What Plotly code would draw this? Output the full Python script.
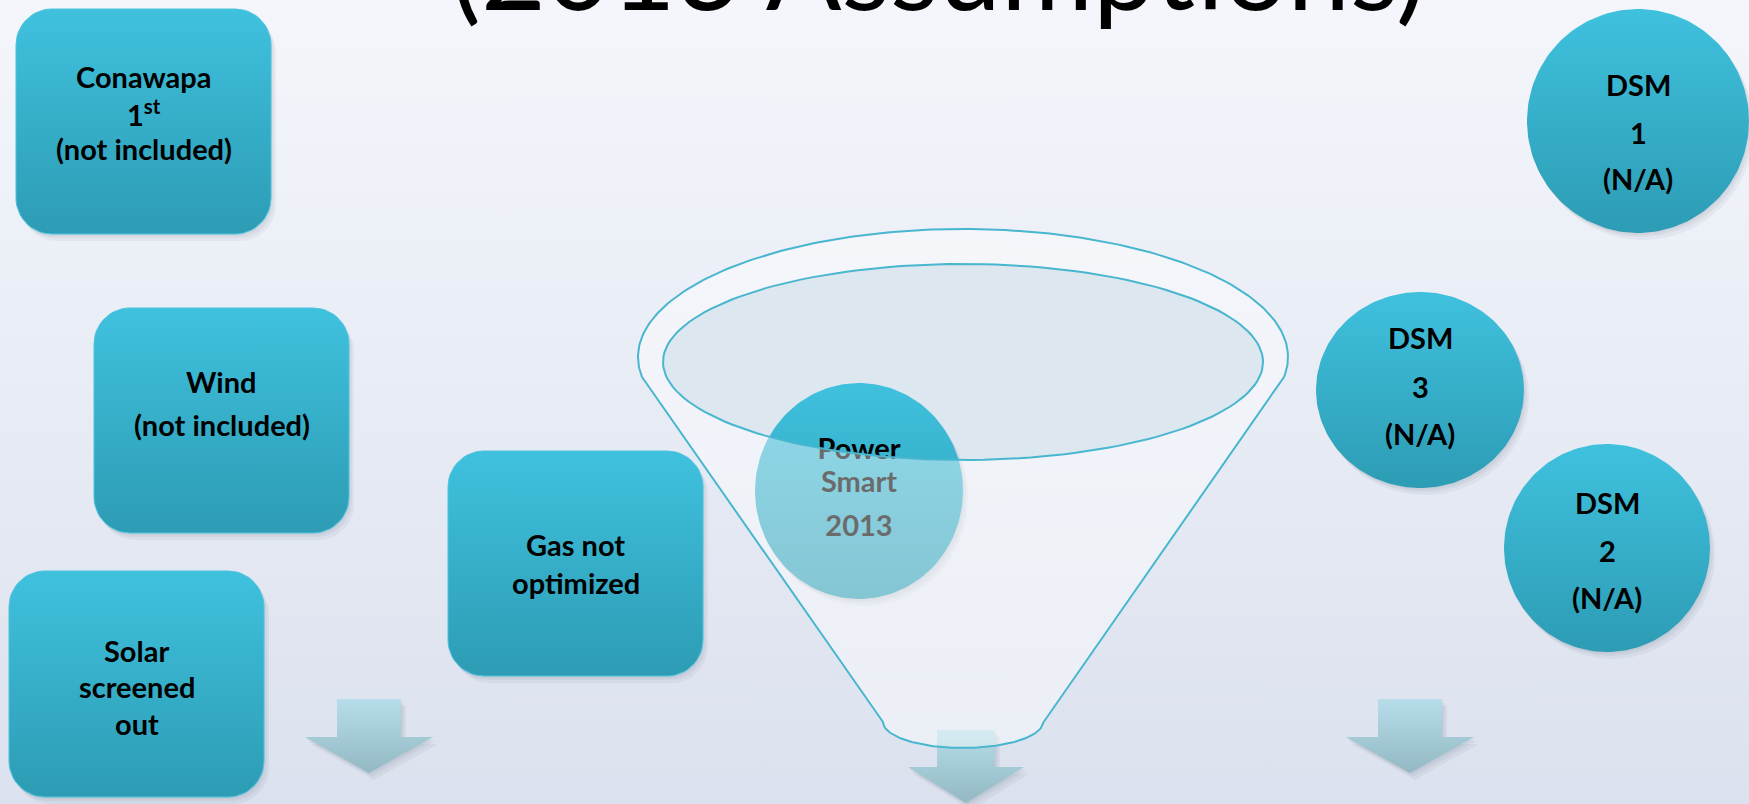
import numpy as np
import plotly.graph_objects as go

W, H = 1749, 804

# ---------------- data (text content) ----------------
title_text = "(2013 Assumptions)"
box_labels = [["Conawapa", "1<sup>st</sup>", "(not included)"],
              ["Wind", "(not included)"],
              ["Solar", "screened", "out"],
              ["Gas not", "optimized"]]
dsm_labels = [["DSM", "1", "(N/A)"],
              ["DSM", "3", "(N/A)"],
              ["DSM", "2", "(N/A)"]]
center_labels = ["Power", "Smart", "2013"]

# ---------------- layout constants (positions / styles) ----------------
box_rects = [(16, 9, 271, 234), (94, 308, 349, 533), (9, 571, 264, 797), (448, 451, 703, 676)]
box_line_y = [[76, 113, 148], [381, 424], [650, 686, 723], [544, 582]]
dsm_ell = [(1638, 121, 111, 112), (1420, 390, 104, 98), (1607, 548, 103, 104)]
dsm_line_y = [[84, 132, 178], [337, 386, 433], [502, 550, 597]]
center_ell = (859, 491, 104, 108)
center_line_y = [452, 485, 529]
arrows = [(369, 699, 737, 773, 32, 64), (966, 730, 767, 803, 29, 58), (1410, 699, 737, 773, 32, 64)]
funnel_outer = (963, 357, 325, 128)
funnel_inner = (963, 362, 300, 98)
funnel_bottom = (963, 722, 80, 26)

TOP_C, BOT_C = "#3fc1de", "#2d9cb4"
ARR_TOP, ARR_BOT = "#b6dde9", "#93b8c4"
LINE_C = "#48b6cf"
FONT = "Lato"
TXT_SIZE = 29

fig = go.Figure()


def rrect(x0, y0, x1, y1, r, n=14):
    xs, ys = [], []
    for (cx, cy, a0, a1) in [(x0 + r, y0 + r, 180, 270), (x1 - r, y0 + r, 270, 360),
                             (x1 - r, y1 - r, 0, 90), (x0 + r, y1 - r, 90, 180)]:
        t = np.radians(np.linspace(a0, a1, n))
        xs += list(cx + r * np.cos(t))
        ys += list(cy + r * np.sin(t))
    xs.append(xs[0]); ys.append(ys[0])
    return xs, ys


def ell(cx, cy, rx, ry, t0=0, t1=2 * np.pi, n=160):
    t = np.linspace(t0, t1, n)
    return list(cx + rx * np.cos(t)), list(cy + ry * np.sin(t))


def add_fill(xs, ys, color=None, grad=None, line=None, lw=0):
    kw = dict(x=xs, y=ys, mode="lines", fill="toself", hoverinfo="skip", showlegend=False,
              line=dict(width=lw, color=line or "rgba(0,0,0,0)"))
    if grad is not None:
        c0, c1, s0, s1 = grad
        kw["fillgradient"] = dict(type="vertical", colorscale=[[0, c0], [1, c1]], start=s0, stop=s1)
    else:
        kw["fillcolor"] = color
    fig.add_trace(go.Scatter(**kw))


def add_shadow(xs, ys):
    for dx, dy, a in [(1, 2, 0.05), (3, 4, 0.05), (5, 7, 0.05)]:
        add_fill([x + dx for x in xs], [y + dy for y in ys], color=f"rgba(40,50,70,{a})")


def arrow_pts(cx, ys, yh, yt, sw, hw):
    xs = [cx - sw, cx + sw, cx + sw, cx + hw, cx, cx - hw, cx - sw, cx - sw]
    yy = [ys, ys, yh, yh, yt, yh, yh, ys]
    return xs, yy


# background
add_fill([0, W, W, 0, 0], [0, 0, H, H, 0], grad=("#f4f6fb", "#dbe1ee", 0, H))

# boxes not touching the funnel
for i in range(3):
    x0, y0, x1, y1 = box_rects[i]
    xs, ys = rrect(x0, y0, x1, y1, 36)
    add_shadow(xs, ys)
    add_fill(xs, ys, grad=(TOP_C, BOT_C, y0, y1), line="#4cc3de", lw=1)

# funnel inner ellipse fill (under the circle)
cx, cy, rx, ry = funnel_inner
xs, ys = ell(cx, cy, rx, ry)
add_fill(xs, ys, color="#dce7ef")

# center circle
cx, cy, rx, ry = center_ell
xs, ys = ell(cx, cy, rx, ry)
add_shadow(xs, ys)
add_fill(xs, ys, grad=(TOP_C, BOT_C, cy - ry, cy + ry))
fig.add_trace(go.Scatter(x=[cx] * 3, y=center_line_y, text=center_labels, mode="text",
                         textposition="middle center", hoverinfo="skip", showlegend=False,
                         textfont=dict(family=FONT, size=TXT_SIZE, color="#000000", weight="bold")))

# center arrow (under funnel)
a = arrows[1]
xs, ys = arrow_pts(*a)
add_shadow(xs, ys)
add_fill(xs, ys, grad=(ARR_TOP, ARR_BOT, a[1], a[3]))

# funnel body overlay with hole for inner ellipse
ocx, ocy, orx, ory = funnel_outer
bcx, bcy, brx, bry = funnel_bottom
d = 0.157
ox, oy = ell(ocx, ocy, orx, ory, np.pi - d, 2 * np.pi + d, 200)
bx, by = ell(bcx, bcy, brx, bry, 0, np.pi, 80)
outline_x = ox + bx + [ox[0]]
outline_y = oy + by + [oy[0]]
icx, icy, irx, iry = funnel_inner
ix, iy = ell(icx, icy, irx, iry, np.pi, -np.pi, 200)  # reverse direction -> hole
ov_x = outline_x + [ocx - orx, icx - irx] + ix + [icx - irx, ocx - orx, outline_x[0]]
ov_y = outline_y + [ocy, icy] + iy + [icy, ocy, outline_y[0]]
add_fill(ov_x, ov_y, color="rgba(255,255,255,0.42)")

# funnel outlines
fig.add_trace(go.Scatter(x=outline_x, y=outline_y, mode="lines", hoverinfo="skip", showlegend=False,
                         line=dict(color=LINE_C, width=2)))
ix2, iy2 = ell(icx, icy, irx, iry)
fig.add_trace(go.Scatter(x=ix2, y=iy2, mode="lines", hoverinfo="skip", showlegend=False,
                         line=dict(color=LINE_C, width=2)))

# gas box (over funnel edge)
x0, y0, x1, y1 = box_rects[3]
xs, ys = rrect(x0, y0, x1, y1, 36)
add_shadow(xs, ys)
add_fill(xs, ys, grad=(TOP_C, BOT_C, y0, y1), line="#4cc3de", lw=1)

# DSM circles
for (cx, cy, rx, ry) in dsm_ell:
    xs, ys = ell(cx, cy, rx, ry)
    add_shadow(xs, ys)
    add_fill(xs, ys, grad=(TOP_C, BOT_C, cy - ry, cy + ry))

# side arrows
for a in (arrows[0], arrows[2]):
    xs, ys = arrow_pts(*a)
    add_shadow(xs, ys)
    add_fill(xs, ys, grad=(ARR_TOP, ARR_BOT, a[1], a[3]))

# texts
annots = []
for (x0, y0, x1, y1), lines, yl in zip(box_rects, box_labels, box_line_y):
    for t, y in zip(lines, yl):
        annots.append(dict(x=(x0 + x1) / 2, y=y, text=t, showarrow=False, xanchor="center",
                           yanchor="middle",
                           font=dict(family=FONT, size=TXT_SIZE, color="#000", weight="bold")))
for (cx, cy, rx, ry), lines, yl in zip(dsm_ell, dsm_labels, dsm_line_y):
    for t, y in zip(lines, yl):
        annots.append(dict(x=cx, y=y, text=t, showarrow=False, xanchor="center",
                           yanchor="middle",
                           font=dict(family=FONT, size=TXT_SIZE, color="#000", weight="bold")))
# title: only its lower part is inside the picture
annots.append(dict(x=938, y=36, text=title_text, showarrow=False, xanchor="center", yanchor="bottom",
                   font=dict(family=FONT, size=112, color="#000")))

fig.update_layout(
    width=W, height=H, margin=dict(l=0, r=0, t=0, b=0),
    paper_bgcolor="#eef1f7", plot_bgcolor="#eef1f7",
    xaxis=dict(range=[0, W], visible=False, fixedrange=True),
    yaxis=dict(range=[H, 0], visible=False, fixedrange=True),
    annotations=annots, showlegend=False,
)
fig.write_html("out.html")
